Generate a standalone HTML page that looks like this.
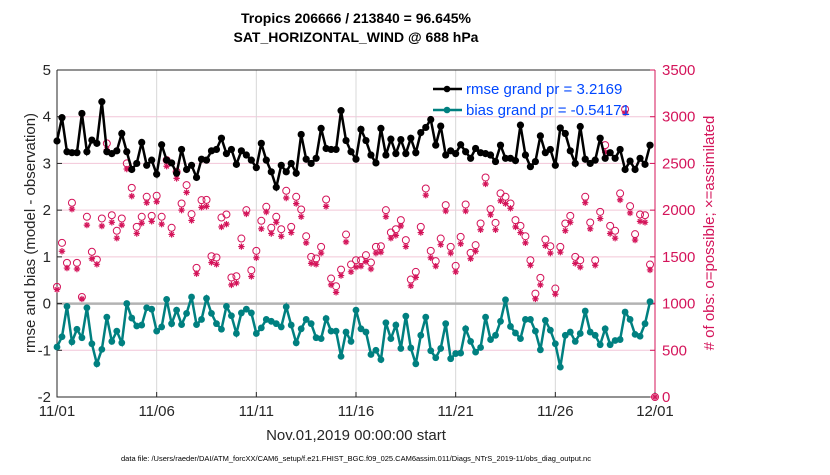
<!DOCTYPE html>
<html><head><meta charset="utf-8"><style>
body{margin:0;background:#fff;width:830px;height:470px;overflow:hidden;font-family:"Liberation Sans",sans-serif}
</style></head><body>
<svg id="chart" width="830" height="470" xmlns="http://www.w3.org/2000/svg" font-family="Liberation Sans, sans-serif"></svg>
<script>
const xTickLabels=["11/01","11/06","11/11","11/16","11/21","11/26","12/01"];
const xTickDays=[0,5,10,15,20,25,30];
const yTicks=[-2,-1,0,1,2,3,4,5];
const rTicks=[0,500,1000,1500,2000,2500,3000,3500];
const rmse=[3.48,3.98,3.25,3.23,3.23,4.07,3.25,3.5,3.43,4.32,3.25,3.21,3.27,3.64,3.25,2.87,3.0,3.45,2.96,3.07,2.77,3.4,3.07,3.01,2.79,3.3,2.87,2.96,2.7,3.09,3.07,
3.27,3.3,3.54,3.21,3.3,2.98,3.27,3.18,3.07,2.91,3.43,3.07,2.82,2.49,2.96,2.82,3.0,2.79,3.62,3.09,3.0,3.11,3.75,3.32,3.3,3.3,4.13,3.49,3.25,3.09,
3.73,3.49,3.18,3.01,3.75,3.18,3.52,3.21,3.51,3.21,3.54,3.23,3.66,3.77,3.94,3.39,3.8,3.18,3.27,3.21,3.4,3.25,3.11,3.32,3.23,3.21,3.18,3.04,3.39,3.11,
3.11,3.06,3.82,3.18,2.93,3.04,3.59,3.23,3.3,2.96,3.76,3.64,3.27,3.0,3.79,3.09,3.0,3.07,3.54,3.11,3.23,3.11,3.3,2.87,3.05,2.87,3.11,2.98,3.39];
const bias=[-0.93,-0.71,-0.06,-0.82,-0.55,-0.73,-0.09,-0.86,-1.29,-0.98,-0.29,-0.81,-0.59,-0.84,0.0,-0.31,-0.48,-0.46,-0.09,-0.12,-0.59,-0.5,0.09,-0.43,-0.14,-0.45,-0.21,0.14,-0.45,-0.34,0.11,
-0.21,-0.43,-0.55,-0.06,-0.26,-0.64,-0.2,-0.12,-0.2,-0.64,-0.52,-0.34,-0.38,-0.43,-0.5,-0.07,-0.46,-0.84,-0.54,-0.34,-0.43,-0.73,-0.75,-0.32,-0.59,-0.59,-1.13,-0.61,-0.81,-0.14,
-0.54,-0.61,-1.09,-1.0,-1.2,-0.41,-0.75,-0.46,-0.96,-0.27,-0.95,-1.29,-0.68,-0.29,-1.01,-1.16,-0.96,-0.43,-1.18,-1.07,-1.06,-0.54,-0.81,-1.04,-0.94,-0.29,-0.77,-0.68,-0.38,0.08,
-0.49,-0.63,-0.75,-0.34,-0.34,-0.59,-0.99,-0.36,-0.57,-0.86,-1.36,-0.68,-0.61,-0.81,-0.64,-0.16,-0.61,-0.68,-0.88,-0.54,-0.88,-0.79,-0.77,-0.18,-0.34,-0.66,-0.7,-0.43,0.04];
const possible=[1179,1650,1436,2079,1436,1071,1929,1554,1471,1911,2714,1946,1779,1911,2500,2239,1821,1929,2143,1939,2154,1929,2536,1811,2411,2071,2268,1957,1382,2107,2110,
1507,1493,1921,1954,1279,1293,1696,2000,1357,1564,1886,2036,1811,1929,1796,2207,1821,2143,2007,1721,1500,1482,1607,2114,1268,1186,1364,1739,1418,1464,
1464,1518,1439,1607,1614,2000,1761,1796,1893,1679,1257,1339,1821,2232,1564,1454,1696,2054,1607,1404,1714,2061,1543,1625,1857,2350,2011,1864,2179,2143,
2071,1893,1832,1721,1464,1107,1275,1686,1614,1161,1607,1857,1939,1500,1464,2143,1868,1464,1982,2696,1832,1779,2179,3080,2043,1743,1954,1946,1418,0];
const assimilated=[1150,1560,1380,2010,1370,1050,1840,1480,1420,1830,2650,1870,1700,1840,2440,2150,1750,1860,2080,1880,2090,1850,2470,1740,2340,2000,2190,1890,1320,2030,2040,
1440,1420,1820,1850,1200,1220,1610,1960,1290,1490,1800,1980,1750,1870,1720,2130,1760,2070,1930,1650,1430,1420,1540,2040,1200,1120,1300,1660,1340,1390,
1400,1450,1370,1540,1550,1930,1700,1730,1830,1610,1190,1280,1760,2160,1490,1400,1630,1990,1540,1340,1640,1990,1480,1560,1790,2280,1950,1790,2100,2070,
2020,1820,1760,1650,1410,1050,1200,1620,1540,1100,1550,1780,1870,1430,1390,2080,1800,1410,1910,2620,1750,1700,2110,3040,1970,1680,1880,1870,1360,0];

const svg=document.getElementById('chart');
const NS='http://www.w3.org/2000/svg';
const L=57,R=655,T=70,B=397;
const xs=d=>L+(R-L)*d/30;
const ys=v=>B-(B-T)*(v+2)/7;
const yr=c=>B-(B-T)*c/3500;
function mk(tag,at,parent){const e=document.createElementNS(NS,tag);for(const k in at)e.setAttribute(k,at[k]);(parent||svg).appendChild(e);return e;}
function txt(s,at){const e=mk('text',at);e.textContent=s;return e;}

yTicks.forEach(v=>{if(v>-2&&v<5&&v!==0){const g=mk('line',{x1:L,x2:R,y1:ys(v),y2:ys(v),stroke:'#f2c6d8','stroke-width':1});}});
xTickDays.forEach(d=>{if(d>0&&d<30){const g=mk('line',{x1:xs(d),x2:xs(d),y1:T,y2:B,stroke:'#d8d8d8','stroke-width':1});}});
const z=mk('line',{x1:L,x2:R,y1:ys(0),y2:ys(0),stroke:'#b3b3b3','stroke-width':2.5});


const box=mk('path',{d:`M${L},${T}H${R}M${L},${T}V${B}H${R}`,stroke:'#262626',fill:'none','stroke-width':1});

const ra=mk('line',{x1:R,x2:R,y1:T,y2:B,stroke:'#d4145a','stroke-width':1});


yTicks.forEach(v=>{mk('line',{x1:L,x2:L+5,y1:ys(v),y2:ys(v),stroke:'#262626'});
const t=txt(String(v),{x:L-6,y:ys(v)+5,'text-anchor':'end','font-size':15,fill:'#262626'});
});
rTicks.forEach(c=>{mk('line',{x1:R-5,x2:R,y1:yr(c),y2:yr(c),stroke:'#d4145a'});
const t=txt(String(c),{x:R+7,y:yr(c)+5,'font-size':15,fill:'#d4145a'});
});
xTickDays.forEach((d,i)=>{mk('line',{x1:xs(d),x2:xs(d),y1:B,y2:B-5,stroke:'#262626'});
const t=txt(xTickLabels[i],{x:xs(d),y:416,'text-anchor':'middle','font-size':15,fill:'#262626'});
});

const asg=mk('g',{});
assimilated.forEach((c,i)=>{const x=xs(i/4),y=yr(c),r=3.2,d=r*0.7;
const p=mk('path',{d:`M${x},${y-r}V${y+r}M${x-r},${y}H${x+r}M${x-d},${y-d}L${x+d},${y+d}M${x-d},${y+d}L${x+d},${y-d}`,stroke:'#d4145a','stroke-width':1.2,fill:'none'},asg);
});
const psg=mk('g',{});
possible.forEach((c,i)=>{const m=mk('circle',{cx:xs(i/4),cy:yr(c),r:3.5,fill:'none',stroke:'#d4145a','stroke-width':1},psg);
});

function series(vals,col,name,marker){
const g=mk('g',{});
mk('polyline',{points:vals.map((v,i)=>xs(i/4)+','+ys(v)).join(' '),fill:'none',stroke:col,'stroke-width':2.5},g);
vals.forEach((v,i)=>{const m=mk('circle',{cx:xs(i/4),cy:ys(v),r:marker,fill:col},g);
});}
series(rmse,'#000000','rmse-line',3.6);
series(bias,'#008080','bias-line',3.4);

const lg=mk('g',{});
[['rmse grand pr = 3.2169','#000000',89],['bias grand pr = -0.54171','#008080',110]].forEach(e=>{
mk('line',{x1:433,x2:462,y1:e[2],y2:e[2],stroke:e[1],'stroke-width':2.5},lg);
mk('circle',{cx:447,cy:e[2],r:3.3,fill:e[1]},lg);
const t=mk('text',{x:466,y:e[2]+5,'font-size':15,fill:'#0047ff'},lg);t.textContent=e[0];
});

let t=txt('Tropics 206666 / 213840 = 96.645%',{x:356,y:23,'text-anchor':'middle','font-size':14,'font-weight':'bold',fill:'#000'});

t=txt('SAT_HORIZONTAL_WIND @ 688 hPa',{x:356,y:42,'text-anchor':'middle','font-size':14,'font-weight':'bold',fill:'#000'});

t=txt('rmse and bias (model - observation)',{x:0,y:0,'text-anchor':'middle','font-size':15,fill:'#262626',transform:'translate(35,233) rotate(-90)'});

t=txt('# of obs: o=possible; \u00d7=assimilated',{x:0,y:0,'text-anchor':'middle','font-size':15,fill:'#d4145a',transform:'translate(714,233) rotate(-90)'});

t=txt('Nov.01,2019 00:00:00 start',{x:356,y:440,'text-anchor':'middle','font-size':15,fill:'#262626'});

t=txt('data file: /Users/raeder/DAI/ATM_forcXX/CAM6_setup/f.e21.FHIST_BGC.f09_025.CAM6assim.011/Diags_NTrS_2019-11/obs_diag_output.nc',{x:356,y:461,'text-anchor':'middle','font-size':7.5,fill:'#000'});

</script>
</body></html>
